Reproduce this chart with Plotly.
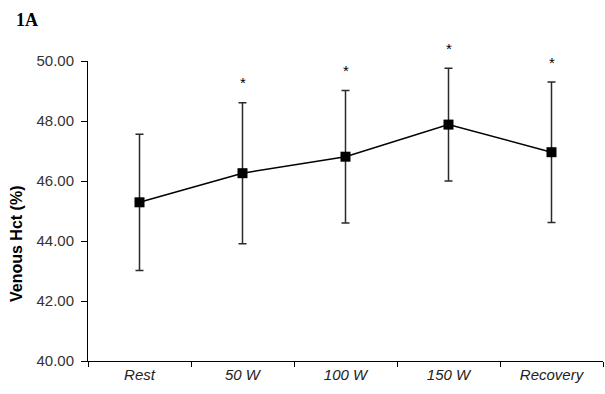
import plotly.graph_objects as go

categories = ["Rest", "50 W", "100 W", "150 W", "Recovery"]
hct_mean = [45.29, 46.26, 46.81, 47.88, 46.96]
hct_sd = [2.27, 2.35, 2.21, 1.88, 2.34]
significant = [False, True, True, True, True]
y_ticks = [40, 42, 44, 46, 48, 50]

FONT = "Liberation Sans, Arial, sans-serif"
W, H = 605, 394
ML, MR, MT, MB = 88, 2, 61, 33
PW, PH = W - ML - MR, H - MT - MB


def px_x(px):
    return (px - ML) / PW


def px_y(py):
    return (H - MB - py) / PH


fig = go.Figure()
fig.add_trace(go.Scatter(
    x=categories, y=hct_mean,
    mode="lines+markers",
    line=dict(color="black", width=1.5),
    marker=dict(symbol="square", size=10, color="black"),
    error_y=dict(type="data", array=hct_sd, visible=True,
                 color="#2a2a2a", thickness=1.5, width=4),
    showlegend=False,
))

for c, m, s, sig in zip(categories, hct_mean, hct_sd, significant):
    if sig:
        fig.add_annotation(x=c, y=m + s, text="*", showarrow=False,
                           yanchor="middle", yshift=20,
                           font=dict(family=FONT, size=15, color="black"))

# y-axis title (placed as in the original, slightly below centre)
fig.add_annotation(x=px_x(16), xref="paper", xanchor="center",
                   y=px_y(244), yref="paper", yanchor="middle",
                   text="<b>Venous Hct (%)</b>", textangle=-90, showarrow=False,
                   font=dict(family=FONT, size=16, color="black"))

# panel label
fig.add_annotation(x=px_x(14), y=px_y(8), xref="paper", yref="paper",
                   text="<b>1A</b>", showarrow=False,
                   xanchor="left", yanchor="top",
                   font=dict(family="Liberation Serif, Times New Roman, serif",
                             size=18, color="black"))

fig.update_layout(
    width=W, height=H,
    margin=dict(l=ML, r=MR, t=MT, b=MB),
    paper_bgcolor="white", plot_bgcolor="white",
    font=dict(family=FONT, color="black"),
)
fig.update_xaxes(
    type="category", range=[-0.5, 4.5],
    showline=True, linecolor="black", linewidth=1,
    ticks="outside", tickson="boundaries", ticklen=5, tickcolor="black",
    showgrid=False, zeroline=False,
    tickfont=dict(family=FONT, size=15, color="#222", style="italic"),
)
fig.update_yaxes(
    range=[40, 50], tickvals=y_ticks, tickformat=".2f",
    showline=True, linecolor="black", linewidth=1,
    ticks="outside", ticklen=6, tickcolor="black",
    showgrid=False, zeroline=False,
    tickfont=dict(family=FONT, size=15, color="#333"),
    ticklabelstandoff=4,
)

fig.write_html("out.html")
